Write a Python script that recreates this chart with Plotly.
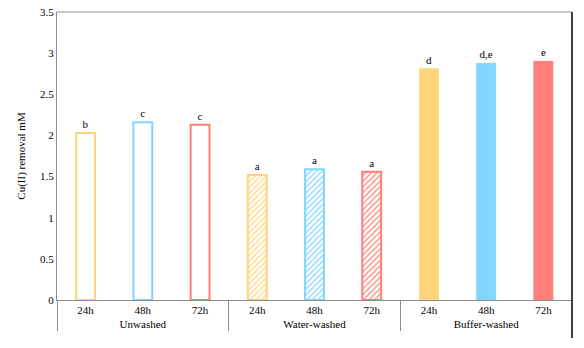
import plotly.graph_objects as go

groups = ["Unwashed", "Water-washed", "Buffer-washed"]
times = ["24h", "48h", "72h"]
values = {
    "Unwashed": [2.03, 2.16, 2.13],
    "Water-washed": [1.52, 1.59, 1.56],
    "Buffer-washed": [2.81, 2.875, 2.90],
}
letters = {
    "Unwashed": ["b", "c", "c"],
    "Water-washed": ["a", "a", "a"],
    "Buffer-washed": ["d", "d,e", "e"],
}
colors = ["#FFD57C", "#80D6FF", "#FF7F7A"]

FONT = "'Liberation Serif', 'DejaVu Serif', serif"
fig = go.Figure()

for g in groups:
    x = [[g] * 3, times]
    if g == "Unwashed":
        marker = dict(color="white", line=dict(color=colors, width=2))
    elif g == "Water-washed":
        marker = dict(color="white", line=dict(color=colors, width=2),
                      pattern=dict(shape="/", fgcolor=colors, bgcolor="white",
                                   size=4, solidity=0.3, fillmode="replace"))
    else:
        marker = dict(color=colors, line=dict(color=colors, width=1))
    fig.add_trace(go.Bar(
        x=x, y=values[g], marker=marker, width=0.33,
        text=letters[g], textposition="outside", cliponaxis=False,
        textfont=dict(family=FONT, size=11, color="black"),
        showlegend=False,
    ))

fig.update_layout(
    width=584, height=348,
    margin=dict(l=57, r=12, t=12, b=48),
    paper_bgcolor="white", plot_bgcolor="white",
    font=dict(family=FONT, size=11, color="black"),
    bargap=0.5,
)
fig.update_xaxes(
    type="multicategory", showline=True, linecolor="#8c8c8c", linewidth=1,
    showdividers=True, dividercolor="#8c8c8c", dividerwidth=1,
    ticks="", tickfont=dict(family=FONT, size=11, color="black"),
    showgrid=False, mirror=False, automargin=False,
)
fig.update_yaxes(
    range=[0, 3.5], dtick=0.5, showgrid=False, showline=True,
    linecolor="#8c8c8c", linewidth=1, ticks="", zeroline=False,
    tickfont=dict(family=FONT, size=11, color="black"),
    title=dict(text="Cu(II) removal mM", font=dict(family=FONT, size=11, color="black"), standoff=12),
    automargin=False,
)
# top frame line and darker right border
fig.add_shape(type="line", xref="paper", yref="paper", x0=0, x1=1, y0=1, y1=1,
              line=dict(color="#8c8c8c", width=1))
fig.add_shape(type="line", xref="paper", yref="paper", x0=1, x1=1, y0=-0.132, y1=1,
              line=dict(color="#404040", width=2))

fig.write_html("out.html")
